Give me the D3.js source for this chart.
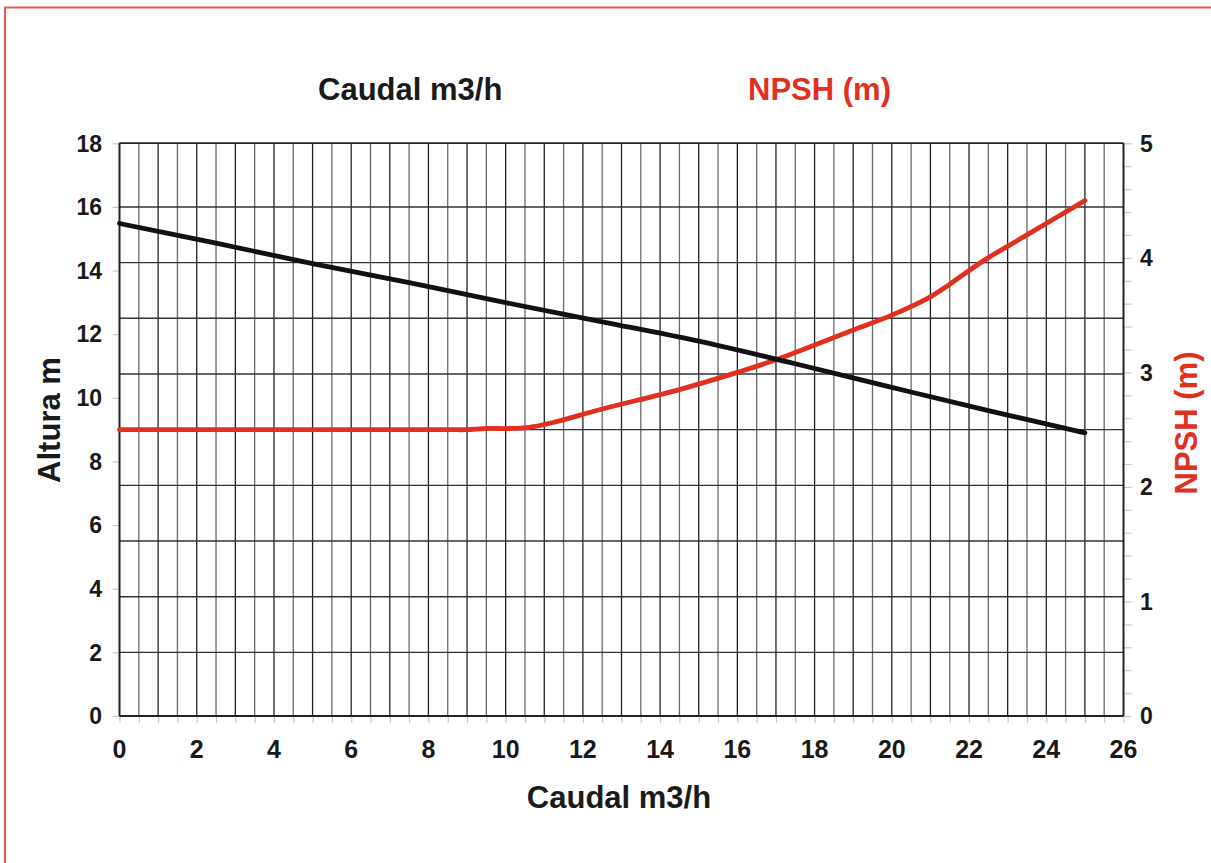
<!DOCTYPE html>
<html><head><meta charset="utf-8">
<script src="https://cdn.jsdelivr.net/npm/d3@7"></script>
<style>
html,body{margin:0;padding:0;background:#fff;}
svg{display:block;}
text{font-family:"Liberation Sans",Arial,sans-serif;font-weight:bold;}
</style></head>
<body>
<script>
// ---- data ----
const alturaQ = [0, 2.5, 5, 7.5, 10, 12.5, 15, 17.5, 20, 22.5, 25];
const alturaH = [15.48, 14.86, 14.22, 13.62, 12.99, 12.39, 11.78, 11.07, 10.33, 9.60, 8.90];
const npshQ = [0, 4.5, 8.5, 9, 9.5, 10.1, 10.6, 11.2, 12.5, 14.5, 16, 17, 19, 20, 21, 21.5, 22.4, 23.5, 25];
const npshV = [2.5, 2.5, 2.5, 2.5, 2.51, 2.51, 2.52, 2.56, 2.68, 2.85, 3.00, 3.11, 3.37, 3.50, 3.66, 3.77, 3.98, 4.20, 4.50];
const xTickLabels = [0, 2, 4, 6, 8, 10, 12, 14, 16, 18, 20, 22, 24, 26];
const leftTickLabels = [0, 2, 4, 6, 8, 10, 12, 14, 16, 18];
const rightTickLabels = [0, 1, 2, 3, 4, 5];
const gridRows = [2, 3.75, 5.5, 7.25, 9, 10.75, 12.5, 14.25, 16, 18];
const titleLeft = "Caudal m3/h";
const titleRight = "NPSH (m)";
const xTitle = "Caudal m3/h";
const yTitle = "Altura m";
const y2Title = "NPSH (m)";

// ---- layout ----
const W = 1211, H = 863;
const L = 119.5, R = 1123.5, T = 143.3, B = 716;
const RED = "#e1301f";

const svg = d3.select("body").append("svg").attr("width", W).attr("height", H);

// frame
svg.append("path").attr("d", `M5,${H+5} V7.5 H${W+5}`).attr("fill","none")
  .attr("stroke","#ea5a52").attr("stroke-width",2);

const x = d3.scaleLinear().domain([0, 26]).range([L, R]);
const y = d3.scaleLinear().domain([0, 18]).range([B, T]);
const y2 = d3.scaleLinear().domain([0, 5]).range([B, T]);

// vertical grid every 0.5
const vgrid = d3.range(0.5, 26, 0.5);
svg.append("g").selectAll("line").data(vgrid).join("line")
  .attr("x1", d => x(d)).attr("x2", d => x(d))
  .attr("y1", T).attr("y2", B)
  .attr("stroke", (d,i) => i % 2 ? "#222" : "#6a6a6a").attr("stroke-width", 1.3);

// horizontal grid
svg.append("g").selectAll("line").data(gridRows).join("line")
  .attr("x1", L).attr("x2", R)
  .attr("y1", d => y(d)).attr("y2", d => y(d))
  .attr("stroke", "#333").attr("stroke-width", 1.4);

// axes
const xAxis = d3.axisBottom(x).tickValues(d3.range(0, 26.01, 0.5)).tickSize(7).tickFormat("");
const gx = svg.append("g").attr("transform", `translate(0,${B})`).call(xAxis);
gx.select(".domain").remove();
gx.selectAll("line").attr("stroke", "#c8c8c8").attr("stroke-width", 1.2);

svg.append("g").selectAll("text").data(xTickLabels).join("text")
  .attr("x", d => x(d)).attr("y", 758).attr("text-anchor", "middle")
  .attr("font-size", 25).attr("fill", "#1a1a1a").text(d => d);

const yAxis = d3.axisLeft(y).tickValues(leftTickLabels).tickSize(7).tickFormat("");
const gy = svg.append("g").attr("transform", `translate(${L},0)`).call(yAxis);
gy.select(".domain").remove();
gy.selectAll("line").attr("stroke", "#c8c8c8").attr("stroke-width", 1.2);
svg.append("g").selectAll("text").data(leftTickLabels).join("text")
  .attr("x", 102).attr("y", d => y(d)).attr("dy", "0.36em").attr("text-anchor", "end")
  .attr("font-size", 23).attr("fill", "#1a1a1a").text(d => d);

const y2Axis = d3.axisRight(y2).tickValues(d3.range(0, 5.01, 0.2)).tickSize(8).tickFormat("");
const gy2 = svg.append("g").attr("transform", `translate(${R},0)`).call(y2Axis);
gy2.select(".domain").remove();
gy2.selectAll("line").attr("stroke", "#c8c8c8").attr("stroke-width", 1.2);
svg.append("g").selectAll("text").data(rightTickLabels).join("text")
  .attr("x", 1140).attr("y", d => y2(d)).attr("dy", "0.36em").attr("text-anchor", "start")
  .attr("font-size", 23).attr("fill", "#1a1a1a").text(d => d);

// plot frame lines
svg.append("line").attr("x1", L).attr("x2", R).attr("y1", T).attr("y2", T).attr("stroke", "#222").attr("stroke-width", 1.4);
svg.append("line").attr("x1", L).attr("x2", R).attr("y1", B).attr("y2", B).attr("stroke", "#222").attr("stroke-width", 2);
svg.append("line").attr("x1", L).attr("x2", L).attr("y1", T).attr("y2", B).attr("stroke", "#222").attr("stroke-width", 2);
svg.append("line").attr("x1", R).attr("x2", R).attr("y1", T).attr("y2", B).attr("stroke", "#222").attr("stroke-width", 2);

// curves
const altura = alturaQ.map((q, i) => [q, alturaH[i]]);
const npsh = npshQ.map((q, i) => [q, npshV[i]]);
svg.append("path").datum(npsh)
  .attr("d", d3.line().x(d => x(d[0])).y(d => y2(d[1])).curve(d3.curveCatmullRom.alpha(0.5)))
  .attr("fill", "none").attr("stroke", RED).attr("stroke-width", 4.8).attr("stroke-linecap", "round");
svg.append("path").datum(altura)
  .attr("d", d3.line().x(d => x(d[0])).y(d => y(d[1])).curve(d3.curveCatmullRom.alpha(0.5)))
  .attr("fill", "none").attr("stroke", "#111").attr("stroke-width", 4.8).attr("stroke-linecap", "round");

// titles
svg.append("text").attr("x", 318).attr("y", 100).attr("font-size", 31).attr("fill", "#1a1a1a").text(titleLeft);
svg.append("text").attr("x", 748).attr("y", 100).attr("font-size", 31).attr("fill", RED).text(titleRight);
svg.append("text").attr("x", 619).attr("y", 808).attr("text-anchor", "middle").attr("font-size", 31).attr("fill", "#1a1a1a").text(xTitle);
svg.append("text").attr("transform", "translate(60,420) rotate(-90)").attr("text-anchor", "middle")
  .attr("font-size", 31).attr("fill", "#1a1a1a").text(yTitle);
svg.append("text").attr("transform", "translate(1197,423) rotate(-90)").attr("text-anchor", "middle")
  .attr("font-size", 31).attr("fill", RED).text(y2Title);
</script>
</body></html>
